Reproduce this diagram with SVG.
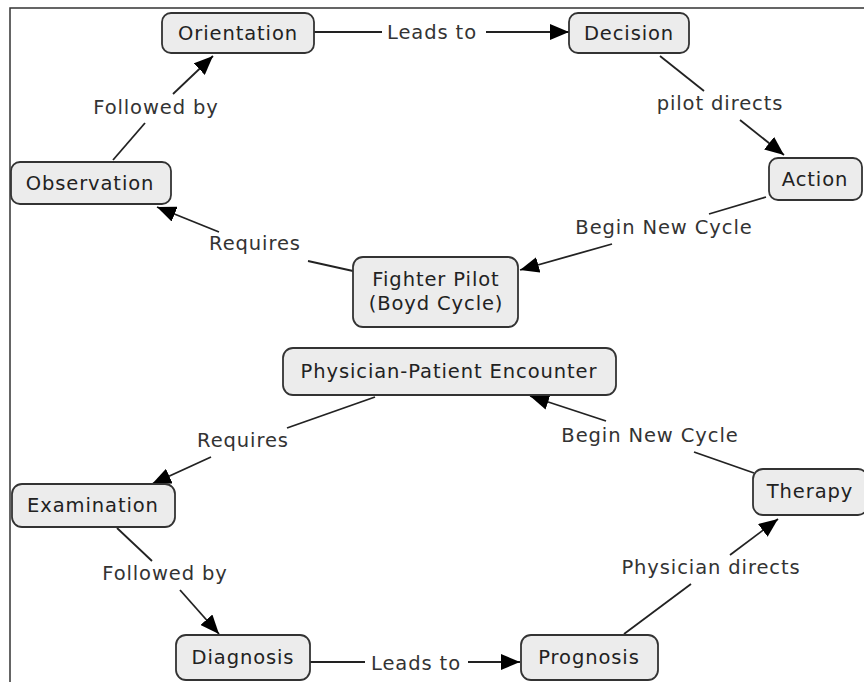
<svg xmlns="http://www.w3.org/2000/svg" width="864" height="682" viewBox="0 0 864 682">
  <style>
    .node rect { fill: #ececec; stroke: #333; stroke-width: 1.8; }
    .node text, .label { font-family: "DejaVu Sans", Verdana, sans-serif; font-size: 19.5px; letter-spacing: 0.9px; text-anchor: middle; }
    .node text { fill: #222; }
    .label { fill: #333; }
    .edge { stroke: #222; stroke-width: 1.8; fill: none; }
    .arrow { marker-end: url(#head); }
    .frame { stroke: #333; stroke-width: 1.5; fill: none; }
  </style>
  <defs>
    <marker id="head" markerUnits="userSpaceOnUse" markerWidth="20" markerHeight="16" refX="19" refY="8" orient="auto">
      <path d="M0,0 L19,8 L0,16 z" fill="#000"/>
    </marker>
  </defs>

  <rect width="864" height="682" fill="#fff"/>
  <!-- outer frame -->
  <path class="frame" d="M10,682 V8 H864"/>

  <!-- connectors and linking phrases -->
  <g id="connectors">
    <!-- Orientation -> Decision -->
    <line class="edge" x1="314" y1="32" x2="382" y2="32"/>
    <line class="edge arrow" x1="486" y1="32" x2="569" y2="32"/>
    <text class="label" x="432" y="39">Leads to</text>
    <!-- Decision -> Action -->
    <line class="edge" x1="660" y1="56" x2="704" y2="91"/>
    <line class="edge arrow" x1="740" y1="120" x2="784" y2="155"/>
    <text class="label" x="720" y="110">pilot directs</text>
    <!-- Action -> Fighter Pilot -->
    <line class="edge" x1="766" y1="197" x2="709" y2="214"/>
    <line class="edge arrow" x1="612" y1="244" x2="520" y2="270"/>
    <text class="label" x="664" y="234">Begin New Cycle</text>
    <!-- Fighter Pilot -> Observation -->
    <line class="edge" x1="353" y1="271" x2="308" y2="261"/>
    <line class="edge arrow" x1="219" y1="232" x2="157" y2="207"/>
    <text class="label" x="255" y="250">Requires</text>
    <!-- Observation -> Orientation -->
    <line class="edge" x1="113" y1="160" x2="145" y2="123"/>
    <line class="edge arrow" x1="173" y1="94" x2="213" y2="56"/>
    <text class="label" x="156" y="114">Followed by</text>

    <!-- Physician-Patient Encounter -> Examination -->
    <line class="edge" x1="375" y1="397" x2="287" y2="428"/>
    <line class="edge arrow" x1="211" y1="457" x2="152" y2="484"/>
    <text class="label" x="243" y="447">Requires</text>
    <!-- Examination -> Diagnosis -->
    <line class="edge" x1="117" y1="528" x2="152" y2="561"/>
    <line class="edge arrow" x1="180" y1="590" x2="219" y2="634"/>
    <text class="label" x="165" y="580">Followed by</text>
    <!-- Diagnosis -> Prognosis -->
    <line class="edge" x1="310" y1="662" x2="365" y2="662"/>
    <line class="edge arrow" x1="468" y1="662" x2="520" y2="662"/>
    <text class="label" x="416" y="670">Leads to</text>
    <!-- Prognosis -> Therapy -->
    <line class="edge" x1="624" y1="634" x2="691" y2="584"/>
    <line class="edge arrow" x1="730" y1="555" x2="778" y2="519"/>
    <text class="label" x="711" y="574">Physician directs</text>
    <!-- Therapy -> Physician-Patient Encounter -->
    <line class="edge" x1="754" y1="473" x2="694" y2="452"/>
    <line class="edge arrow" x1="606" y1="421" x2="530" y2="396"/>
    <text class="label" x="650" y="442">Begin New Cycle</text>
  </g>

  <!-- concepts -->
  <g id="orientation" class="node">
    <rect x="162" y="13" width="152" height="40" rx="9"/>
    <text x="238" y="40">Orientation</text>
  </g>
  <g id="decision" class="node">
    <rect x="569" y="13" width="120" height="40" rx="9"/>
    <text x="629" y="40">Decision</text>
  </g>
  <g id="action" class="node">
    <rect x="769" y="158" width="93" height="42" rx="9"/>
    <text x="815" y="186">Action</text>
  </g>
  <g id="observation" class="node">
    <rect x="11" y="162" width="160" height="42" rx="9"/>
    <text x="90" y="190">Observation</text>
  </g>
  <g id="fighter-pilot" class="node">
    <rect x="353" y="257" width="165" height="70" rx="10"/>
    <text x="436" y="286">Fighter Pilot</text>
    <text x="436" y="310">(Boyd Cycle)</text>
  </g>
  <g id="encounter" class="node">
    <rect x="283" y="348" width="333" height="47" rx="10"/>
    <text x="449" y="378">Physician-Patient Encounter</text>
  </g>
  <g id="examination" class="node">
    <rect x="12" y="484" width="163" height="43" rx="10"/>
    <text x="93" y="512">Examination</text>
  </g>
  <g id="therapy" class="node">
    <rect x="753" y="469" width="115" height="46" rx="10"/>
    <text x="810" y="498">Therapy</text>
  </g>
  <g id="diagnosis" class="node">
    <rect x="176" y="635" width="134" height="45" rx="10"/>
    <text x="243" y="664">Diagnosis</text>
  </g>
  <g id="prognosis" class="node">
    <rect x="521" y="635" width="137" height="45" rx="10"/>
    <text x="589" y="664">Prognosis</text>
  </g>
</svg>
